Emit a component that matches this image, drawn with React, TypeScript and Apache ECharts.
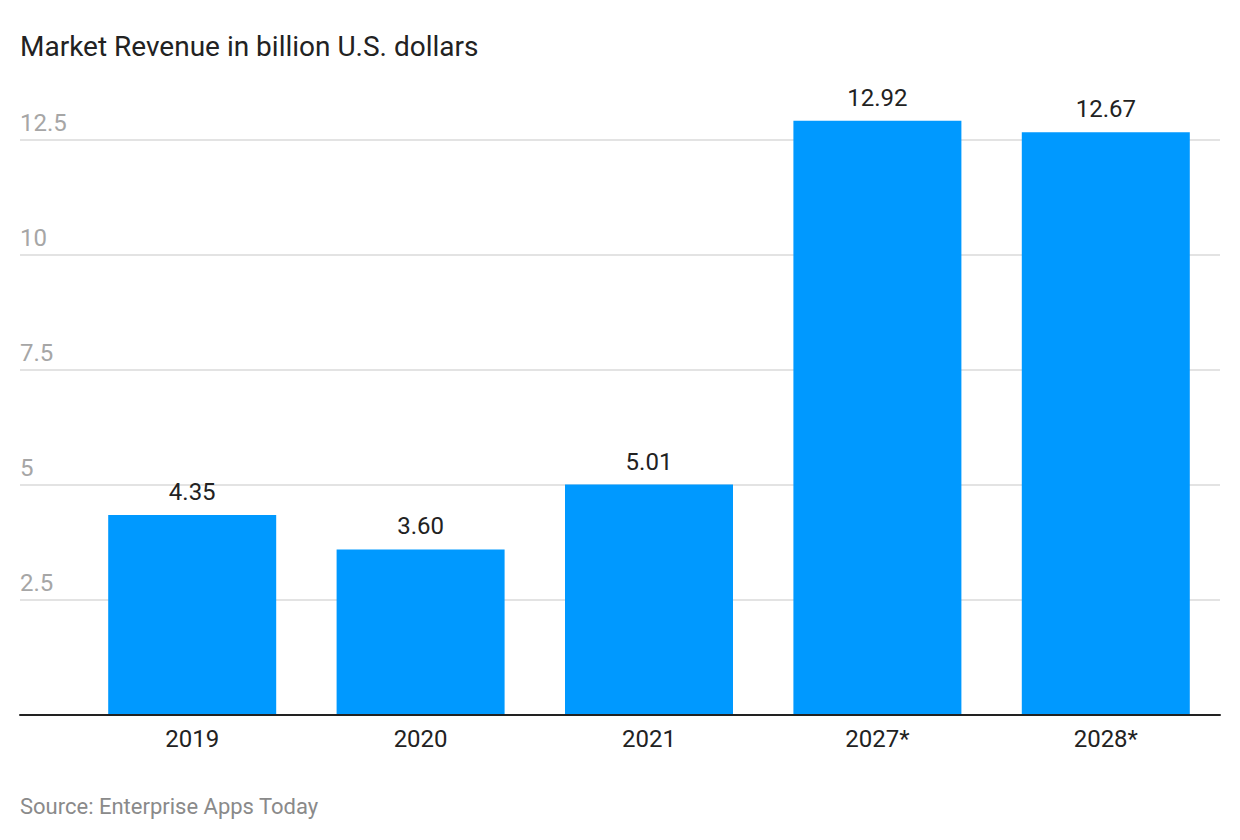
import React, { useEffect, useRef } from "react";
import * as echarts from "echarts";

const categories = ["2019", "2020", "2021", "2027*", "2028*"];
const revenue = [4.35, 3.6, 5.01, 12.92, 12.67];
const titleText = "Market Revenue in billion U.S. dollars";
const sourceText = "Source: Enterprise Apps Today";

const FONT = "Roboto, 'Noto Sans', sans-serif";

export default function App() {
  const ref = useRef<HTMLDivElement>(null);
  useEffect(() => {
    if (!ref.current) return;
    const chart = echarts.init(ref.current, undefined, { renderer: "svg" });
    chart.setOption({
      animation: false,
      backgroundColor: "#ffffff",
      textStyle: { fontFamily: FONT },
      title: [
        {
          text: titleText,
          left: 20,
          top: 32,
          padding: 0,
          textStyle: { fontSize: 28, fontWeight: "normal", color: "#222222", fontFamily: FONT },
        },
        {
          text: sourceText,
          left: 20,
          top: 795,
          padding: 0,
          textStyle: { fontSize: 22, fontWeight: "normal", color: "#8a8a8a", fontFamily: FONT },
        },
      ],
      grid: [
        { left: 20, right: 20, top: 140, bottom: 125, containLabel: false },
        { left: 78, right: 20, top: 71, bottom: 125, containLabel: false },
      ],
      xAxis: [
        {
          gridIndex: 0,
          type: "category",
          data: [""],
          axisLine: { show: true, lineStyle: { color: "#222222", width: 2 } },
          axisTick: { show: false },
          axisLabel: { show: false },
          splitLine: { show: false },
          z: 5,
        },
        {
          gridIndex: 1,
          type: "category",
          data: categories,
          axisLine: { show: false },
          axisTick: { show: false },
          axisLabel: {
            show: true,
            color: "#222222",
            fontSize: 24,
            fontFamily: FONT,
            margin: 12,
          },
          splitLine: { show: false },
        },
      ],
      yAxis: [
        {
          gridIndex: 0,
          type: "value",
          min: 0,
          max: 12.5,
          interval: 2.5,
          axisLine: { show: false },
          axisTick: { show: false },
          splitLine: { show: true, lineStyle: { color: "#e3e3e3", width: 2 } },
          axisLabel: {
            show: true,
            inside: true,
            margin: 0,
            align: "left",
            verticalAlign: "bottom",
            padding: [0, 0, 5, 0],
            color: "#a6a6a6",
            fontSize: 24,
            fontFamily: FONT,
            showMinLabel: false,
            formatter: (v: number) => String(v),
          },
        },
        {
          gridIndex: 1,
          type: "value",
          min: 0,
          max: 14,
          axisLine: { show: false },
          axisTick: { show: false },
          splitLine: { show: false },
          axisLabel: { show: false },
        },
      ],
      series: [
        {
          type: "bar",
          xAxisIndex: 1,
          yAxisIndex: 1,
          data: revenue,
          barWidth: 168,
          itemStyle: { color: "#0099ff" },
          label: {
            show: true,
            position: "top",
            distance: 11,
            color: "#222222",
            fontSize: 24,
            fontFamily: FONT,
            formatter: (p: any) => p.value.toFixed(2),
          },
          z: 3,
        },
      ],
    });
    return () => chart.dispose();
  }, []);
  return (
    <div
      ref={ref}
      style={{ position: "absolute", left: 0, top: 0, width: 1240, height: 840 }}
    />
  );
}
